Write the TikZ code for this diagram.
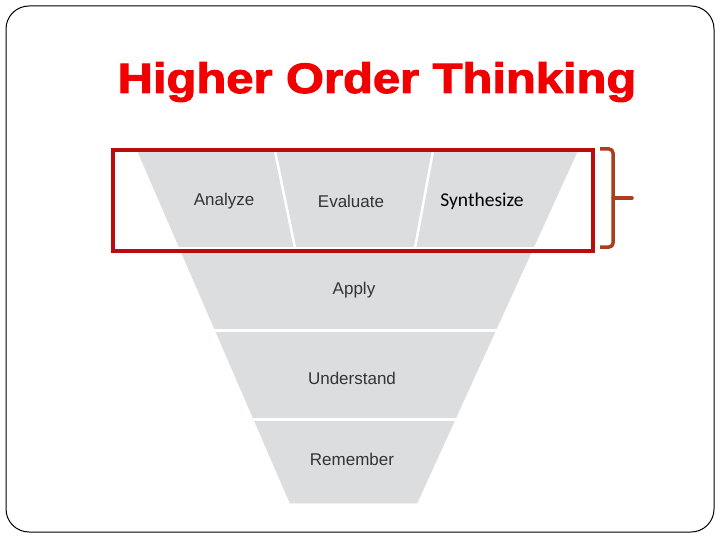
\documentclass[tikz,border=0pt]{standalone}
\usepackage{fontspec}
\setmainfont{Liberation Sans}
\newfontfamily\titlefont[BoldFeatures={FakeBold=2.2}]{Liberation Sans}
\newfontfamily\calfont{Carlito}
\definecolor{funnelgrey}{HTML}{DCDDDF}
\definecolor{labelgrey}{HTML}{333333}
\definecolor{boxred}{HTML}{BA0C0C}
\definecolor{bracketbrown}{HTML}{A8411B}
\definecolor{titlered}{HTML}{F20000}
\tikzset{
  lvl/.style={font=\fontsize{17}{20}\selectfont, text=labelgrey, inner sep=0pt},
  gap/.style={draw=white, line width=3pt},
}
\begin{document}
\begin{tikzpicture}[x=1pt,y=-1pt]
\useasboundingbox (0,0) rectangle (720,540);
% frame
\draw[line width=1pt, rounded corners=23pt] (6,6) rectangle (714,532);
% title
\node[anchor=base, inner sep=0pt, text=titlered] (title) at (377,93)
  {\scalebox{1.15}[1]{\titlefont\bfseries\fontsize{42.5}{48}\selectfont Higher Order Thinking}};
% funnel
\coordinate (tl) at (138,152);
\coordinate (tr) at (577,152);
\coordinate (bl) at (290,503);
\coordinate (br) at (417,503);
\fill[funnelgrey] (tl) -- (tr) -- (br) -- (bl) -- cycle;
\draw[black!12, line width=0.8pt] (tl) -- (bl) -- (br) -- (tr);
% gaps
\draw[gap, line width=4pt] (170,249) -- (545,249);
\draw[gap] (200,330) -- (510,330);
\draw[gap] (240,419) -- (470,419);
\draw[gap, line width=2.5pt] (275,151) -- (295,248);
\draw[gap, line width=2.5pt] (433,151) -- (415,248);
% labels
\node[lvl] (analyze) at (224,201) {Analyze};
\node[lvl] (evaluate) at (351,201) {Evaluate};
\node[inner sep=0pt, font=\calfont\fontsize{19.5}{22}\selectfont] (synth) at (482,201) {Synthesize};
\node[lvl] (apply) at (354,290) {Apply};
\node[lvl] (understand) at (352,378) {Understand};
\node[lvl] (remember) at (352,459) {Remember};
% red box
\draw[boxred, line width=3.5pt] (113,150) rectangle (593,251);
% bracket
\coordinate (b1) at (600,149);
\coordinate (b2) at (613,149);
\coordinate (bm) at (613,198);
\coordinate (b3) at (613,247);
\coordinate (b4) at (600,247);
\coordinate (btip) at (632,198);
\draw[bracketbrown, line width=3.5pt, rounded corners=4pt] (b1) -- (b2) -- (b3) -- (b4);
\draw[bracketbrown, line width=3.5pt, line cap=round] (bm) -- (btip);
\end{tikzpicture}
\end{document}
